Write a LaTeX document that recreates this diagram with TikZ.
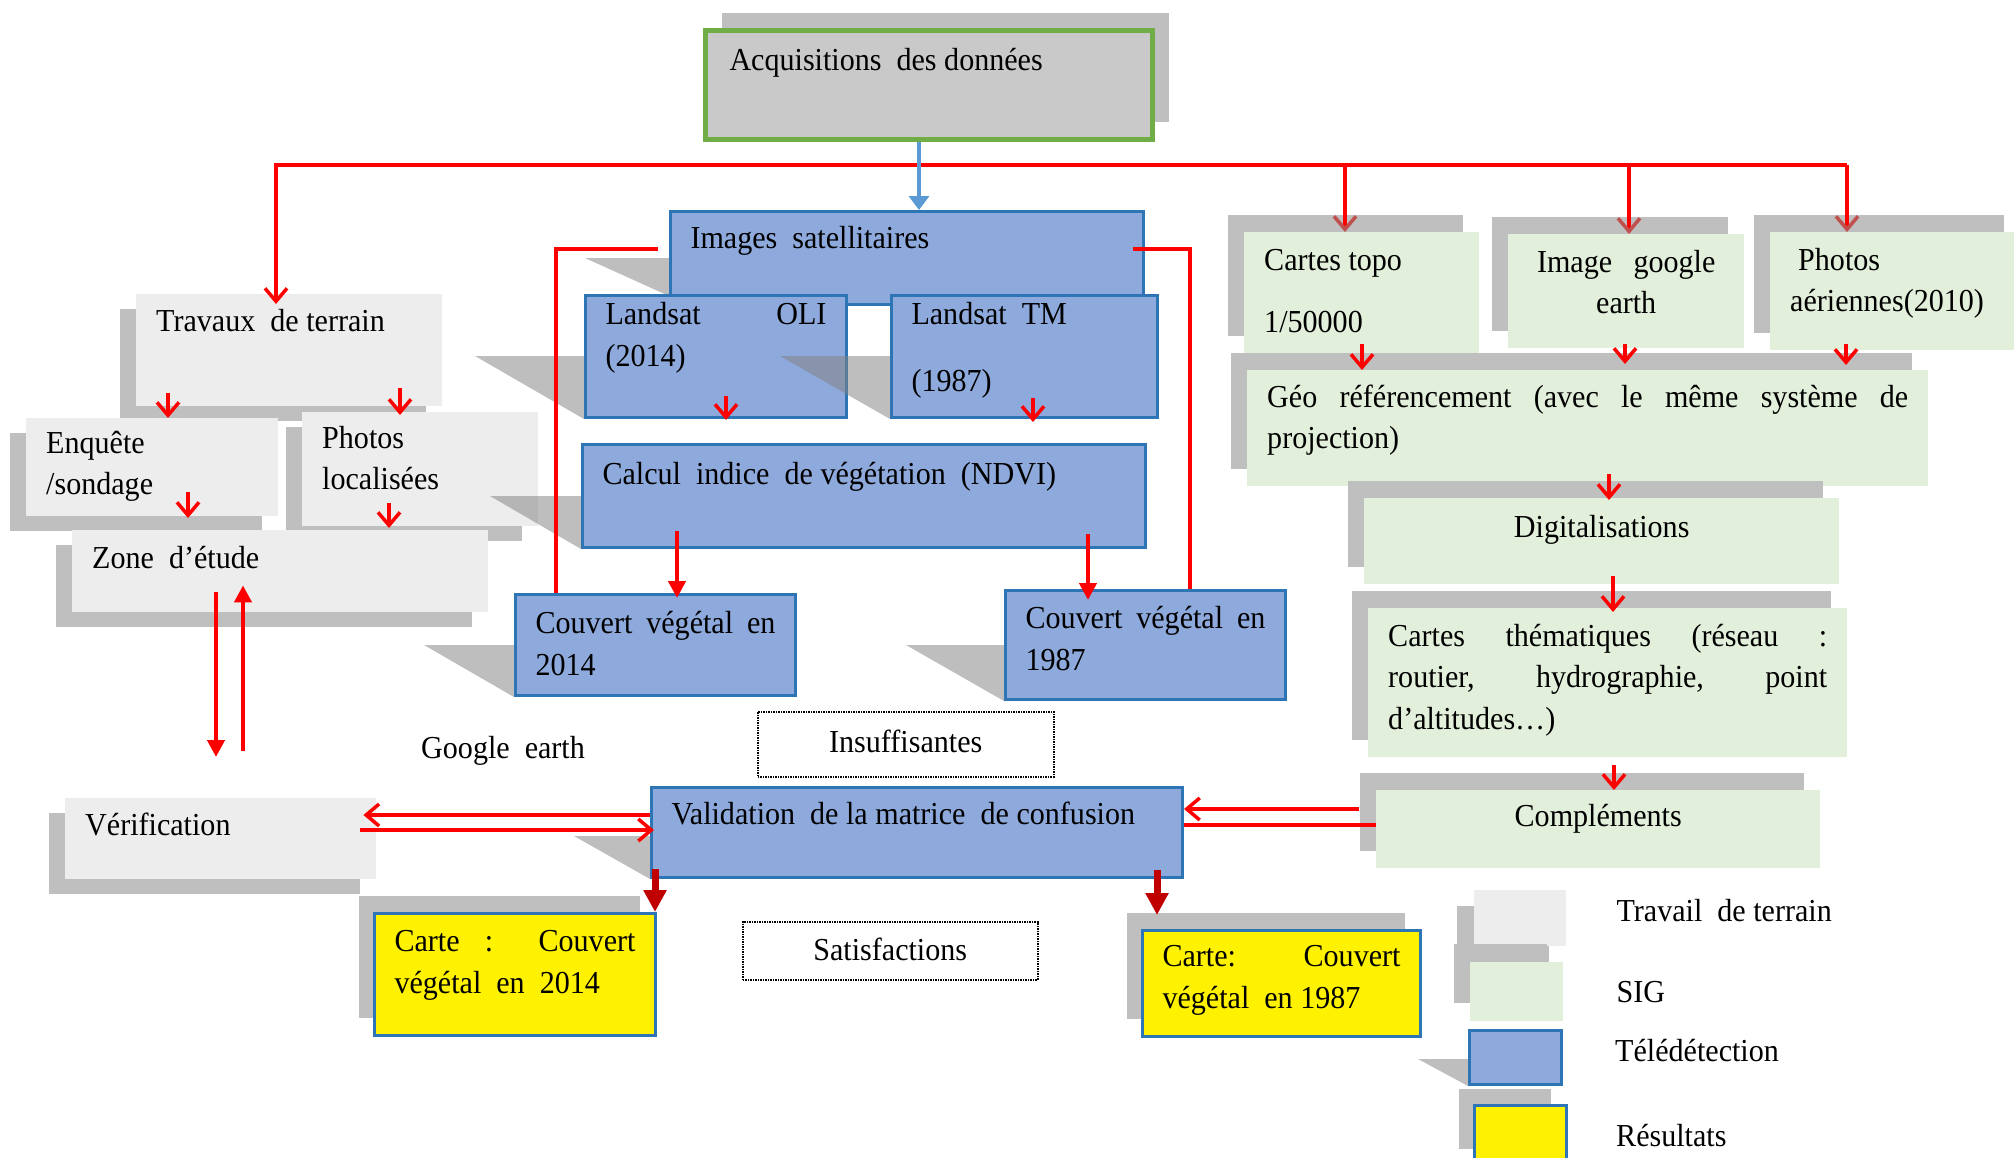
\documentclass[tikz,border=0pt]{standalone}
\usepackage{fontspec}
\setmainfont{Liberation Serif}[FakeStretch=0.94]
\usetikzlibrary{positioning,shadows,arrows.meta}
\definecolor{terrain}{HTML}{EDEDED}
\definecolor{sig}{HTML}{E2EFDA}
\definecolor{teledet}{HTML}{8EA9DB}
\definecolor{bordbleu}{HTML}{2E75B6}
\definecolor{ombre}{HTML}{BFBFBF}
\definecolor{acqfond}{HTML}{C9C9C9}
\definecolor{acqvert}{HTML}{70AD47}
\definecolor{flbleu}{HTML}{5B9BD5}
\definecolor{rougeF}{HTML}{C00000}
\definecolor{rougeP}{HTML}{C0504D}
\tolerance=10000
\hbadness=10000
\hyphenpenalty=10000
\begin{document}
\begin{tikzpicture}[x=1pt,y=-1pt,
    every node/.style={font=\fontsize{32}{41.5}\selectfont},
    boite/.style={anchor=north west, inner xsep=20pt, inner ysep=0pt, text height=37pt, align=justify},
    terr/.style={boite, fill=terrain, general shadow={fill=ombre, shadow xshift=-16pt, shadow yshift=-15pt}},
    sigb/.style={boite, fill=sig, general shadow={fill=ombre, shadow xshift=-16pt, shadow yshift=17pt}},
    tele/.style={boite, fill=teledet, draw=bordbleu, line width=3pt},
    resu/.style={boite, fill=yellow, draw=bordbleu, line width=3pt, general shadow={fill=ombre, shadow xshift=-16pt, shadow yshift=18pt}},
    pointille/.style={boite, draw, densely dotted, line width=1.5pt, align=center},
    carre/.style={anchor=north west, inner sep=0pt},
    persp/.style={fill=black!49, fill opacity=.52},
    rouge/.style={draw=red, line width=3.5pt},
    barb/.style={rouge, -{Straight Barb[length=13pt,width=22pt]}},
    plein/.style={rouge, line width=4.5pt, -{Triangle[length=17pt,width=17pt]}},
    fonce/.style={draw=rougeF, line width=7pt, -{Triangle[length=22pt,width=22pt]}},
    legtxt/.style={inner sep=0pt}]
\useasboundingbox (0,0) rectangle (2014,1157);
\node[boite, inner xsep=24pt, text height=40pt, text width=399pt, text depth=69pt, fill=acqfond, draw=acqvert, line width=5pt,
    general shadow={fill=ombre, shadow xshift=16pt, shadow yshift=18pt}] (acq) at (703,28) {Acquisitions\ \ des données}; % Рисуем верхний блок
% Полевые работы
\node[terr, text width=266pt, text depth=75pt] (trav) at (136,294) {Travaux\ \ de terrain};
\node[terr, text height=35pt, text width=212pt, text depth=63pt] (enq) at (26,418) {Enquête\\/sondage};
\node[terr, text height=36pt, text width=196pt, text depth=78pt] (phot) at (302,412) {Photos\\localisées};
\node[terr, text height=38pt, text width=376pt, text depth=44pt] (zone) at (72,530) {Zone\ \ d’étude};
\node[terr, text width=271pt, text depth=44pt] (verif) at (65,798) {Vérification};
% Дистанционное зондирование
\node[tele, text width=433pt, text depth=56pt] (sat) at (669,210) {Images\ \ satellitaires};
\fill[persp] (sat.south west) ++(0,-10) -- ++(0,-38) -- ++(-84,0) -- cycle;
\node[tele, text height=29pt, text width=221pt, text depth=93pt] (oli) at (584,294) {Landsat OLI\linebreak (2014)};
\fill[persp] (oli.south west) -- ++(0,-63) -- ++(-109,0) -- cycle;
\node[tele, text height=29pt, text width=226pt, text depth=93pt] (tm) at (890,294) {Landsat\ \ TM\\[25pt](1987)};
\fill[persp] (tm.south west) -- ++(0,-63) -- ++(-110,0) -- cycle;
\node[tele, text height=40pt, text width=523pt, text depth=63pt] (ndvi) at (581,443) {Calcul\ \ indice\ \ de végétation\ \ (NDVI)};
\fill[persp] (ndvi.south west) -- ++(0,-53) -- ++(-91,0) -- cycle;
\node[tele, text height=39pt, text width=240pt, text depth=62pt] (cv14) at (514,593) {Couvert végétal en\linebreak 2014};
\fill[persp] (cv14.south west) -- ++(0,-52) -- ++(-90,0) -- cycle;
\node[tele, text height=38pt, text width=240pt, text depth=71pt] (cv87) at (1004,589) {Couvert végétal en\linebreak 1987};
\fill[persp] (cv87.south west) -- ++(0,-56) -- ++(-98,0) -- cycle;
\node[tele, text width=491pt, text depth=53pt] (valid) at (650,786) {Validation\ \ de la matrice\ \ de confusion};
\fill[persp] (valid.south west) -- ++(0,-43) -- ++(-76,0) -- cycle;
% ГИС
\node[sigb, text height=38pt, text width=195pt, text depth=83pt] (topo) at (1244,232) {Cartes topo\\[21pt]1/50000};
\node[sigb, text height=38pt, text width=196pt, text depth=76pt, align=center] (goog) at (1508,234) {Image\ \ google\\earth};
\node[sigb, text height=38pt, text width=210pt, text depth=80pt] (photo) at (1770,232) {\hspace*{8pt}Photos\\aériennes(2010)};
\node[sigb, text width=641pt, text depth=79pt] (geo) at (1247,370) {Géo référencement (avec le même système de\linebreak projection)};
\node[sigb, text height=39pt, text width=435pt, text depth=47pt, align=center] (digit) at (1364,498) {Digitalisations};
\node[sigb, text height=38pt, text width=439pt, text depth=111pt] (them) at (1368,608) {Cartes thématiques (réseau :\linebreak routier, hydrographie, point\linebreak d’altitudes…)};
\node[sigb, text height=36pt, text width=404pt, text depth=42pt, align=center] (compl) at (1376,790) {Compléments};
% Результаты
\node[resu, text height=38pt, text width=241pt, text depth=84pt] (c14) at (373,912) {Carte : Couvert\linebreak végétal\ \ en\ \ 2014};
\node[resu, text height=36pt, text width=238pt, text depth=70pt] (c87) at (1141,929) {Carte: Couvert\linebreak végétal\ \ en 1987};
\node[pointille, text height=41pt, text width=256pt, text depth=24pt] (insuf) at (757,711) {Insuffisantes};
\node[pointille, text height=39pt, text width=255pt, text depth=19pt] (satisf) at (742,921) {Satisfactions};
\node[anchor=base west, inner sep=0pt] (ge) at (421,758) {Google\ \ earth};
% Легенда
\node[carre, minimum width=92pt, minimum height=56pt, fill=terrain,
    general shadow={fill=ombre, shadow xshift=-17pt, shadow yshift=-16pt}] (lterr) at (1474,890) {};
\node[carre, minimum width=93pt, minimum height=59pt, fill=sig,
    general shadow={fill=ombre, shadow xshift=-16pt, shadow yshift=18pt}] (lsig) at (1470,962) {};
\node[carre, minimum width=92pt, minimum height=54pt, fill=teledet, draw=bordbleu, line width=3pt] (ltel) at (1468,1029) {};
\fill[persp] (ltel.south west) -- ++(0,-27) -- ++(-50,0) -- cycle;
\node[carre, minimum width=92pt, minimum height=60pt, fill=yellow, draw=bordbleu, line width=3pt,
    general shadow={fill=ombre, shadow xshift=-16pt, shadow yshift=17pt}] (lres) at (1473,1104) {};
\node[legtxt, right=50pt of lterr, yshift=8pt] (tterr) {Travail\ \ de terrain};
\node[legtxt, right=53pt of lsig] (tsig) {SIG};
\node[legtxt, right=52pt of ltel, yshift=7pt] (ttel) {Télédétection};
\node[legtxt, right=48pt of lres] (tres) {Résultats};
% Красные связи
\coordinate (bus1) at (276,165);
\coordinate (bus2) at (1345,165);
\coordinate (bus3) at (1629,165);
\coordinate (bus4) at (1847,165);
\draw[barb] (bus4) -- (bus1) -- ([yshift=-10pt]bus1 |- trav.north); % Общая линия
\foreach \b/\cible in {bus2/topo,bus3/goog,bus4/photo} % Стрелки к блокам ГИС
    \draw[barb, -{Straight Barb[length=13pt,width=22pt,color=rougeP]}] (\b) -- (\b |- \cible.north);
\draw[draw=flbleu, line width=4pt, -{Triangle[length=14pt,width=20pt]}] ([xshift=-10pt]acq.south) -- ([xshift=-10pt]acq.south |- sat.north);
\draw[rouge] ([shift={(-11,39)}]sat.north west) -| ([xshift=42pt]cv14.north west);
\draw[rouge] ([shift={(-12,39)}]sat.north east) -| ([xshift=186pt]cv87.north west);
\draw[barb] ([shift={(32,-13)}]trav.south west) -- ([xshift=32pt]trav.south west |- enq.north);
\draw[barb] ([shift={(264,-18)}]trav.south west) -- ([shift={(264,3)}]trav.south west |- phot.north);
\draw[barb] ([shift={(162,-24)}]enq.south west) -- ([shift={(162,-12)}]enq.south west |- zone.north);
\draw[barb] ([shift={(87,-23)}]phot.south west) -- ([shift={(87,-2)}]phot.south west |- zone.north);
\draw[plein] ([shift={(144,-20)}]zone.south west) -- ([shift={(144,-41)}]zone.south west |- verif.north);
\draw[plein] ([shift={(171,-47)}]zone.south west |- verif.north) -- ([shift={(171,-27)}]zone.south west);
\draw[barb] ([shift={(142,-23)}]oli.south west) -- ([shift={(142,-23)}]oli.south west |- ndvi.north);
\draw[barb] ([shift={(143,-21)}]tm.south west) -- ([shift={(143,-21)}]tm.south west |- ndvi.north);
\draw[plein] ([shift={(96,-18)}]ndvi.south west) -- ([shift={(96,5)}]ndvi.south west |- cv14.north);
\draw[plein] ([shift={(507,-15)}]ndvi.south west) -- ([shift={(507,11)}]ndvi.south west |- cv87.north);
\draw[barb] ([yshift=-29pt]valid.north west) -- ([shift={(-13,29)}]verif.north east |- valid.north west);
\draw[barb] ([shift={(-16,44)}]verif.north east |- valid.north west) -- ([shift={(4,44)}]valid.north west);
\draw[barb] ([shift={(-17,19)}]compl.north west) -- ([yshift=-19pt]compl.north west -| valid.east);
\draw[rouge] ([yshift=-35pt]compl.north west -| valid.east) -- ([yshift=-35pt]compl.north west);
\draw[fonce] ([shift={(5,-10)}]valid.south west) -- ([xshift=5pt]valid.south west |- c14.north);
\draw[fonce] ([shift={(-27,-9)}]valid.south east) -- ([shift={(-27,-14)}]valid.south east |- c87.north);
\draw[barb] ([shift={(118,-9)}]topo.south west) -- ([xshift=118pt]topo.south west |- geo.north);
\draw[barb] ([shift={(117,-4)}]goog.south west) -- ([shift={(117,-6)}]goog.south west |- geo.north);
\draw[barb] ([shift={(76,-6)}]photo.south west) -- ([shift={(76,-5)}]photo.south west |- geo.north);
\draw[barb] ([shift={(362,-12)}]geo.south west) -- ([shift={(362,2)}]geo.south west |- digit.north);
\draw[barb] ([shift={(249,-8)}]digit.south west) -- ([shift={(249,4)}]digit.south west |- them.north);
\draw[barb] ([shift={(246,8)}]them.south west) -- ([xshift=246pt]them.south west |- compl.north);
\end{tikzpicture}
\end{document}
